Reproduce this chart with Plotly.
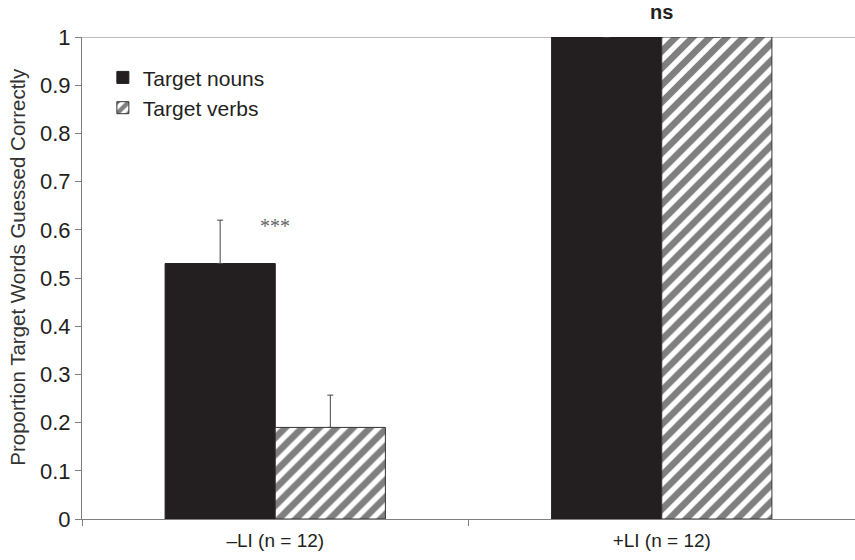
import plotly.graph_objects as go

categories = ["–LI (n = 12)", "+LI (n = 12)"]
nouns = [0.53, 1.0]
verbs = [0.19, 1.0]
nouns_err = [0.09, 0]
verbs_err = [0.067, 0]
y_ticks = [0, 0.1, 0.2, 0.3, 0.4, 0.5, 0.6, 0.7, 0.8, 0.9, 1]
y_tick_text = ["0", "0.1", "0.2", "0.3", "0.4", "0.5", "0.6", "0.7", "0.8", "0.9", "1"]
y_title = "Proportion Target Words Guessed Correctly"

ink = "#231f20"
axis_gray = "#7f7f7f"
font = "Liberation Sans, Arial, sans-serif"

fig = go.Figure()
fig.add_trace(go.Bar(
    name="Target nouns", x=categories, y=nouns,
    marker=dict(color=ink, line=dict(color=ink, width=1)),
    error_y=dict(type="data", array=nouns_err, symmetric=False, arrayminus=[0, 0],
                 visible=True, color="#444444", thickness=1, width=3),
))
fig.add_trace(go.Bar(
    name="Target verbs", x=categories, y=verbs,
    marker=dict(color="white", line=dict(color="#333333", width=1),
                pattern=dict(shape="/", fgcolor="#000000", bgcolor="white", size=12, solidity=0.55)),
    error_y=dict(type="data", array=verbs_err, symmetric=False, arrayminus=[0, 0],
                 visible=True, color="#444444", thickness=1, width=3),
))

fig.add_shape(type="line", xref="paper", yref="y", x0=0, x1=1, y0=1, y1=1,
              line=dict(color=axis_gray, width=1), layer="below")

fig.add_annotation(x=categories[0], y=0.607, text="***", showarrow=False,
                   yanchor="middle",
                   font=dict(family="Liberation Serif, Times New Roman, serif", size=20, color="#666666"))
fig.add_annotation(x=categories[1], y=1, yref="y", text="<b>ns</b>", showarrow=False,
                   yanchor="middle", yshift=25,
                   font=dict(family=font, size=20, color=ink))
fig.add_annotation(xref="paper", yref="paper", x=-0.083, y=0.523, text=y_title,
                   textangle=-90, showarrow=False, xanchor="center", yanchor="middle",
                   font=dict(family=font, size=20.5, color="#333333"))

fig.update_layout(
    width=855, height=560,
    margin=dict(l=82, r=0, t=37, b=41),
    paper_bgcolor="white", plot_bgcolor="white",
    barmode="group", bargap=0.43, bargroupgap=0,
    font=dict(family=font, size=16, color=ink),
    showlegend=True,
    legend=dict(x=0.027, y=0.958, xanchor="left", yanchor="top",
                bgcolor="rgba(0,0,0,0)", font=dict(size=21, color=ink),
                tracegroupgap=0),
    xaxis=dict(showline=True, linecolor=axis_gray, linewidth=1,
               ticks="outside", tickson="boundaries", ticklen=6, tickcolor=axis_gray,
               ticklabelstandoff=4,
               showgrid=False, zeroline=False,
               tickfont=dict(size=19, color=ink)),
    yaxis=dict(range=[0, 1], tickvals=y_ticks, ticktext=y_tick_text,
               showline=True, linecolor=axis_gray, linewidth=1,
               ticks="outside", ticklen=6, tickcolor=axis_gray,
               showgrid=False, zeroline=False,
               tickfont=dict(size=22, color=ink)),
)

fig.write_html("out.html")
